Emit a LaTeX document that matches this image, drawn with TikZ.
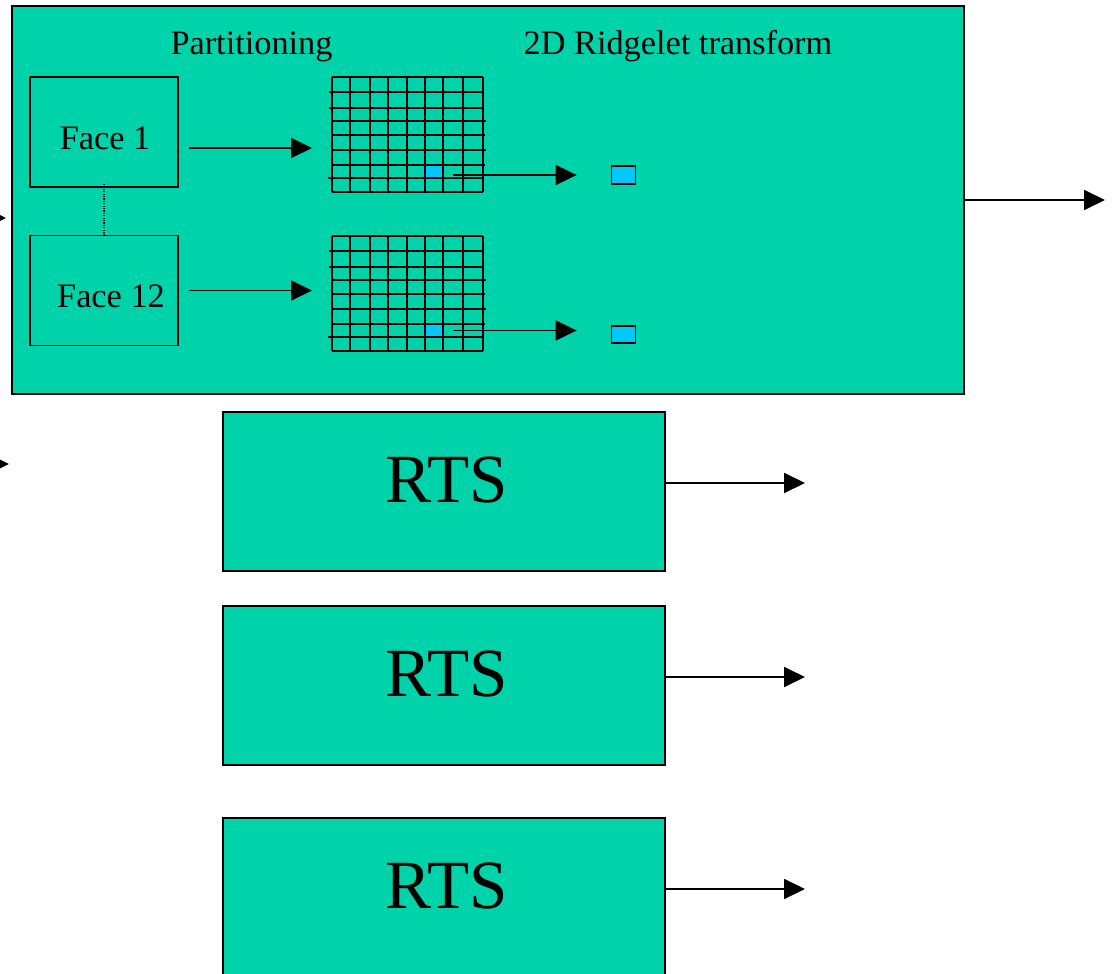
\documentclass[tikz,border=0pt]{standalone}
\usepackage{fontspec}
\setmainfont{Liberation Serif}
\usetikzlibrary{arrows.meta}
\definecolor{panel}{HTML}{00D2AA}
\definecolor{cellblue}{HTML}{00C8FF}
\tikzset{
  box/.style={draw=black, line width=2pt, fill=panel, inner sep=0pt},
  facebox/.style={draw=black, line width=1.8pt, inner sep=0pt,
                  minimum width=148pt, minimum height=110pt},
  rtsbox/.style={box, minimum width=442pt, minimum height=159pt},
  arr/.style={line width=1.9pt, -{Triangle[length=21pt,width=20pt]}},
  lbl/.style={font=\fontsize{34.3}{40}\selectfont, inner sep=0pt, anchor=base},
  biglbl/.style={font=\fontsize{69}{80}\selectfont, inner sep=0pt, anchor=base},
  gridline/.style={line width=2.1pt},
  cellfill/.style={fill=cellblue, inner sep=0pt, minimum width=16pt, minimum height=13pt},
  smallsq/.style={draw=black, line width=1.8pt, fill=cellblue, inner sep=0pt,
                  minimum width=24pt, minimum height=18pt},
}
\begin{document}
\begin{tikzpicture}[x=1pt,y=-1pt]
\useasboundingbox (0,0) rectangle (1116,974);
\clip (0,0) rectangle (1116,974);

% incoming arrows at the left edge
\coordinate (inA) at (-30,218);
\coordinate (tipA) at (6,218);
\coordinate (inB) at (-30,464);
\coordinate (tipB) at (9,464);
\draw[arr] (inA) -- (tipA);
\draw[arr] (inB) -- (tipB);

% main panel
\node[box, minimum width=952pt, minimum height=388pt] (main) at (488,200) {};

% titles
\node[lbl] (tpart) at (251.5,55) {Partitioning};
\node[lbl] (tridge) at (678,55) {2D Ridgelet transform};

% faces
\node[facebox] (f1) at (104,132) {};
\node[facebox] (f12) at (104,290.5) {};
\node[lbl] (f1t) at (105,149) {Face 1};
\node[lbl] (f12t) at (111,307) {Face 12};
\draw[line width=1.2pt, dash pattern=on 1.2pt off 1.2pt] ([yshift=4pt]f1.south) -- (f12.north);

% partition grids with one highlighted cell each
\foreach \oy/\n in {0/1, 159/2} {
  \node[inner sep=0pt, minimum width=151pt, minimum height=115.3pt] (g\n) at (407.2,134.3+\oy) {};
  \node[cellfill] (c\n) at (433.7,171.5+\oy) {};
  \foreach \x in {331.7,350.3,370,388.3,406.7,425,442.7,463.3,482.7}
    \draw[gridline] (\x,76.7+\oy) -- (\x,192+\oy);
  \foreach \y/\a/\b in {76.7/331.7/482.7, 92/329.3/482.7, 107.7/329.3/482.7,
                        121/332.7/486, 135/331.7/484.7, 150/331.7/486,
                        165.3/331.7/484.7, 178.3/328/482.7, 192/331.7/482.7}
    \draw[gridline] (\a,\y+\oy) -- (\b,\y+\oy);
}

% ridgelet coefficients
\node[smallsq] (s1) at (623.5,175) {};
\node[smallsq, minimum height=17pt] (s2) at (623.5,334.5) {};

% arrows inside the panel
\draw[arr, shorten <=10pt, shorten >=19.5pt]
  ([yshift=-16pt]f1.east) -- ([yshift=-16pt]f1.east -| g1.west);
\draw[arr, shorten <=10pt, shorten >=19.5pt]
  (f12.east) -- (f12.east -| g2.west);
\draw[arr, shorten <=11pt, shorten >=34pt] (c1.east |- s1.west) -- (s1.west);
\draw[arr, shorten <=11pt, shorten >=34pt] (c2.east) -- (c2.east -| s2.west);

% panel output
\coordinate (outMain) at (1105,200);
\draw[arr] (main.east) -- (outMain);

% RTS blocks
\node[rtsbox] (r1) at (444,491.5) {};
\node[rtsbox] (r2) at (444,685.5) {};
\node[rtsbox] (r3) at (444,897.5) {};
\node[biglbl] (r1t) at (447,502) {RTS};
\node[biglbl] (r2t) at (447,696) {RTS};
\node[biglbl] (r3t) at (447,908) {RTS};

\coordinate (o1) at (805,483);
\coordinate (o2) at (805,677);
\coordinate (o3) at (805,889);
\draw[arr] ([yshift=8.5pt]r1.east) -- (o1);
\draw[arr] ([yshift=8.5pt]r2.east) -- (o2);
\draw[arr] ([yshift=8.5pt]r3.east) -- (o3);
\end{tikzpicture}
\end{document}
